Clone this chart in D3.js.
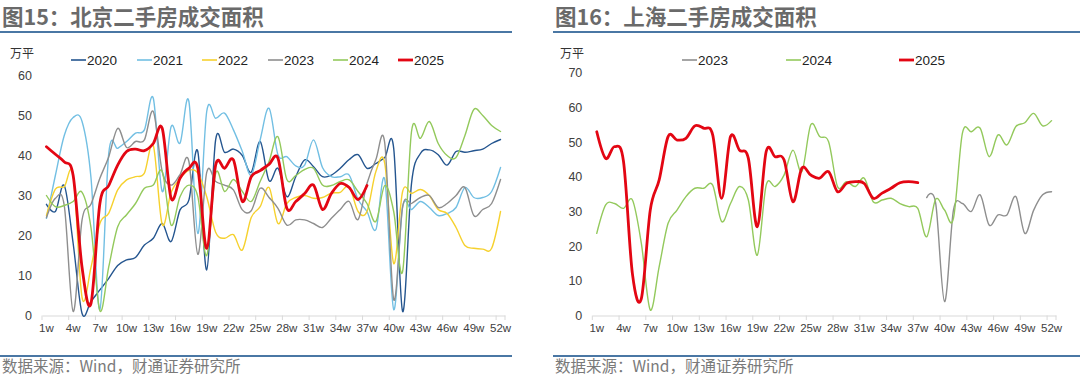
<!DOCTYPE html>
<html><head><meta charset="utf-8">
<script src="https://cdn.jsdelivr.net/npm/d3@7"></script>
<style>
html,body{margin:0;padding:0;background:#fff;}
svg{display:block;font-family:"Liberation Sans",Arial,sans-serif;}
</style></head><body>
<svg id="c" width="1080" height="384"></svg>
<script>
const weeks = ["1w","2w","3w","4w","5w","6w","7w","8w","9w","10w","11w","12w","13w","14w","15w","16w","17w","18w","19w","20w","21w","22w","23w","24w","25w","26w","27w","28w","29w","30w","31w","32w","33w","34w","35w","36w","37w","38w","39w","40w","41w","42w","43w","44w","45w","46w","47w","48w","49w","50w","51w","52w"];
const tickWeeks = ["1w","4w","7w","10w","13w","16w","19w","22w","25w","28w","31w","34w","37w","40w","43w","46w","49w","52w"];
const bjTicks = [0,10,20,30,40,50,60];
const shTicks = [0,10,20,30,40,50,60,70];

const bj2020 = [27.8,26,32.5,18,0.5,3.5,6.4,9.3,12.5,13.9,14.5,17.6,19.3,23,18.5,26.4,28.9,41,11.4,43.9,40.8,41.6,40,35.8,43.5,33.7,36.8,29.7,34.7,38.9,37.2,34.7,35.1,36.8,39,40.2,36.8,38,39.5,41.8,1,33,40.5,41.4,40.2,37.6,41,40.8,41.2,41.6,43,44];
const bj2021 = [24.3,35,45,49.5,48.5,34.5,1.5,40.6,41.8,43.5,45.6,46.4,54.3,31,47.2,43.1,53.5,20.5,51,49.3,50.6,46.4,41,35.1,43.9,51.8,40.2,39.7,37.4,37.6,43.9,37,34.7,34.7,35.1,29,26,21.5,34,1.5,27,26.5,28.5,27,25,25.5,27,32,29.5,29.5,31,37];
const bj2022 = [25,31.6,32.2,35,4.5,12,23,25.6,31.4,33.9,34.7,35.6,42.5,22.8,30.8,34.3,36.3,35.6,29.7,20.8,19.3,20.2,16.4,24.5,27.2,32,23,28,29.5,30,29.3,29.5,30.6,30.8,32.2,26,26,36,38,13,31,30.5,31.5,30,26.5,25.5,22,17.5,16.8,16.6,16.8,26];
const bj2023 = [24.5,29.3,27.5,1,23.9,27.8,34.3,39.7,46.8,42,43.5,43.9,51,36,32.6,35.2,38.5,15.3,35.8,33.5,32.6,31.4,26.4,26.2,31.8,29.5,26.8,22.6,23.9,23.9,23,22,24.3,26.5,28.5,24,33,39,43,4,27.2,28,29.5,30,27,28,30,32,25,26.5,28,34];
const bj2024 = [30,27.2,27.5,28.5,30.8,22,1.2,12.2,22.2,25.2,28,31.8,32.6,36,22.6,29.7,32.6,29.7,15,35.5,31,34,31,28.5,33.5,38.5,44.7,34,35,36.5,36.8,32.6,32.5,33.5,33.9,31,28,23.5,32.5,26,11,46,44.3,48.5,43,40,39.5,45,51.5,50,47.5,46];
const bj2025 = [42.2,40.3,38.4,35,12,3,28,32.5,37.6,41,41.6,41.2,43,46.8,29.3,34.3,36.8,36.8,16.8,37.6,36.8,38.9,28.5,34.7,36.2,37.8,39.3,26.8,28.5,30.5,32.6,26.5,30.5,33,32,29,32.5];

const sh2023 = [null,null,null,null,null,null,null,null,null,null,null,null,null,null,null,null,null,null,null,null,null,null,null,null,null,null,null,null,null,null,null,null,null,null,null,null,null,34,32.5,4,30.4,32.3,30,34.8,26.1,29,29,34.3,23.7,30.4,34.8,35.7];
const sh2024 = [23.7,31.9,32.3,30.9,33.3,20.8,1.6,14.1,26.6,30.4,34.3,36.7,36.7,37.6,27.1,32.3,37.2,33.3,17.4,37.6,37.2,40.5,47.7,41.5,55,51.6,50.1,37.2,38.6,37.2,39.6,32.8,33.3,33.8,32.3,31.4,30.9,22.7,33.5,30.4,28,52.5,53,54,45.8,52.1,49.2,54.5,55.6,58.3,54.7,56.2];
const sh2025 = [53,45.3,48.7,44.4,12,4.9,30.4,39.1,51.6,50.6,51.1,54.7,54,52.1,33.8,51.6,47.7,45.3,25.6,47.3,45.8,44.9,32.8,42.5,40.5,39.6,41.5,35.7,38.1,38.6,38.1,33.8,35.3,36.7,38.3,38.6,38.3];

const colors = {"2020":"#24558f","2021":"#72bfe3","2022":"#f6d12e","2023":"#8e8e8e","2024":"#93c95c","2025":"#e30613"};

const svg = d3.select("#c");

function panel(o){
  const g = svg.append("g");
  g.append("text").attr("x",o.left).attr("y",25).attr("font-family","'Noto Sans CJK SC',sans-serif")
    .attr("font-size",21.5).attr("font-weight","bold").attr("fill","#6a6a6a").text(o.title);
  g.append("line").attr("x1",o.left-2).attr("x2",o.lineEnd).attr("y1",32).attr("y2",32).attr("stroke","#4a77a4").attr("stroke-width",2);
  g.append("line").attr("x1",o.left-2).attr("x2",o.lineEnd).attr("y1",356).attr("y2",356).attr("stroke","#4a77a4").attr("stroke-width",2);
  g.append("text").attr("x",o.left).attr("y",372).attr("font-family","'Noto Sans CJK SC',sans-serif")
    .attr("font-size",15.5).attr("fill","#7a7a7a").text("数据来源：Wind，财通证券研究所");

  const x = d3.scaleBand().domain(weeks).range([o.x0,o.x1]).padding(0);
  const y = d3.scaleLinear().domain([0,o.ymax]).range([315.5,o.ytop]);
  const bw = x.bandwidth();

  g.append("text").attr("x",o.unitX).attr("y",58).attr("font-family","'Noto Sans CJK SC',sans-serif")
    .attr("font-size",12).attr("fill","#333").text("万平");

  const ya = d3.axisLeft(y).tickValues(o.yticks).tickSize(0).tickPadding(10);
  const yg = g.append("g").attr("transform",`translate(${o.x0},0)`).call(ya);
  yg.select(".domain").remove();
  yg.selectAll("text").attr("font-size",12.5).attr("fill","#404040").attr("font-family","'Liberation Sans',Arial,sans-serif");

  const xa = d3.axisBottom(x).tickValues(tickWeeks).tickSize(0).tickPadding(8);
  const xg = g.append("g").attr("transform",`translate(0,315.5)`).call(xa);
  xg.select(".domain").attr("stroke","#d9d9d9");
  xg.selectAll("text").attr("font-size",11.5).attr("fill","#404040").attr("font-family","'Liberation Sans',Arial,sans-serif");
  g.selectAll(".tk").data(tickWeeks.concat(["end"])).enter().append("line")
    .attr("x1",d=>d==="end"?o.x1:x(d)).attr("x2",d=>d==="end"?o.x1:x(d))
    .attr("y1",315.5).attr("y2",320).attr("stroke","#d9d9d9");

  const line = d3.line().defined(d=>d!=null)
    .x((d,i)=>x(weeks[i])+bw/2).y(d=>y(d)).curve(d3.curveCatmullRom.alpha(0));

  o.series.forEach(s=>{
    g.append("path").datum(s.values).attr("d",line).attr("fill","none")
      .attr("stroke",colors[s.name]).attr("stroke-width",s.name==="2025"?2.8:1.4)
      .attr("stroke-linejoin","round").attr("stroke-linecap","round");
  });

  o.series.forEach((s,i)=>{
    const lx = o.legX[i];
    g.append("line").attr("x1",lx).attr("x2",lx+15).attr("y1",60).attr("y2",60)
      .attr("stroke",colors[s.name]).attr("stroke-width",s.name==="2025"?2.8:1.6);
    g.append("text").attr("x",lx+16).attr("y",65).attr("font-size",13.5).attr("fill","#222").text(s.name);
  });
}

panel({left:2,lineEnd:512,title:"图15：北京二手房成交面积",x0:42,x1:505,ymax:60,ytop:75.5,yticks:bjTicks,unitX:10,
  legX:[71,137,202,268,333,398],
  series:[{name:"2020",values:bj2020},{name:"2021",values:bj2021},{name:"2022",values:bj2022},{name:"2023",values:bj2023},{name:"2024",values:bj2024},{name:"2025",values:bj2025}]});

panel({left:555,lineEnd:1080,title:"图16：上海二手房成交面积",x0:592.3,x1:1056,ymax:70,ytop:72.8,yticks:shTicks,unitX:560,
  legX:[682,786,899],
  series:[{name:"2023",values:sh2023},{name:"2024",values:sh2024},{name:"2025",values:sh2025}]});
</script></body></html>
